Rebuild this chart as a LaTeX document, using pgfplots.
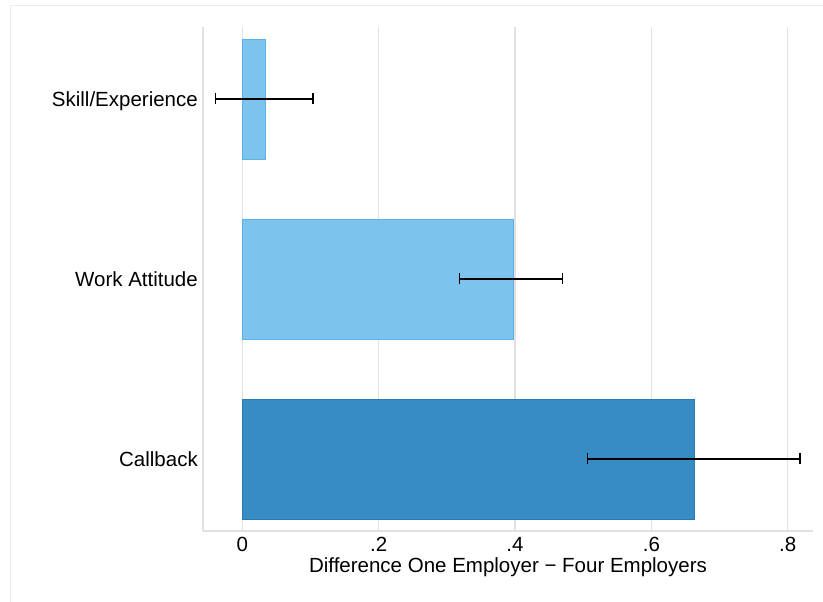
\documentclass[border=0pt]{standalone}
\usepackage{pgfplots}
\pgfplotsset{compat=1.18}
\usepackage{fontspec}
\setmainfont{Liberation Sans}
\definecolor{lightbar}{RGB}{124,195,238}
\definecolor{lightedge}{RGB}{92,178,232}
\definecolor{darkbar}{RGB}{55,141,195}
\definecolor{darkedge}{RGB}{40,122,180}
\definecolor{gridgray}{RGB}{225,225,225}
\definecolor{framegray}{RGB}{236,236,236}
\begin{document}
\begin{tikzpicture}
\path[use as bounding box, fill=white] (0pt,0pt) rectangle (823pt,602pt);
\draw[framegray, line width=1pt] (10.5pt,0pt) -- (10.5pt,596.5pt) -- (823pt,596.5pt);
\begin{axis}[
  at={(203pt,71pt)}, anchor=south west,
  width=610pt, height=504pt, scale only axis,
  xmin=-0.0576, xmax=0.837,
  ymin=0.6, ymax=3.4,
  axis x line*=bottom, axis y line*=left,
  axis line style={gridgray, line width=1.3pt, -},
  xtick={0,0.2,0.4,0.6,0.8},
  xticklabels={0,.2,.4,.6,.8},
  ytick={1,2,3},
  yticklabels={Callback,Work Attitude,Skill/Experience},
  major tick length=0pt,
  tick style={draw=none},
  xmajorgrids,
  grid style={gridgray, line width=1.3pt},
  /pgf/number format/assume math mode=true,
  every tick label/.append style={font=\fontsize{20.5}{24}\selectfont, inner sep=0pt},
  xticklabel style={anchor=base, yshift=-21pt},
  yticklabel style={anchor=base east, xshift=-5pt, yshift=-7.3pt},
  xlabel={Difference One Employer − Four Employers},
  xlabel style={font=\fontsize{20.5}{24}\selectfont, at={(axis description cs:0.5,0)}, anchor=base, inner sep=0pt, yshift=-42pt},
  xbar, bar shift=0pt, bar width=0.6667,
  error bars/error mark=|,
  error bars/error bar style={black, line width=1.4pt},
  error bars/error mark options={black, line width=1.4pt, mark size=5.5pt},
]
\addplot[xbar, fill=darkbar, draw=darkedge, line width=0.8pt,
  error bars/.cd, x dir=both, x explicit]
  coordinates {(0.6628,1) += (0.1550,0) -= (0.1563,0)};
\addplot[xbar, fill=lightbar, draw=lightedge, line width=0.8pt,
  error bars/.cd, x dir=both, x explicit]
  coordinates {(0.397,2) += (0.073,0) -= (0.078,0)};
\addplot[xbar, fill=lightbar, draw=lightedge, line width=0.8pt,
  error bars/.cd, x dir=both, x explicit]
  coordinates {(0.0332,3) += (0.0705,0) -= (0.0723,0)};
\end{axis}
\end{tikzpicture}
\end{document}
